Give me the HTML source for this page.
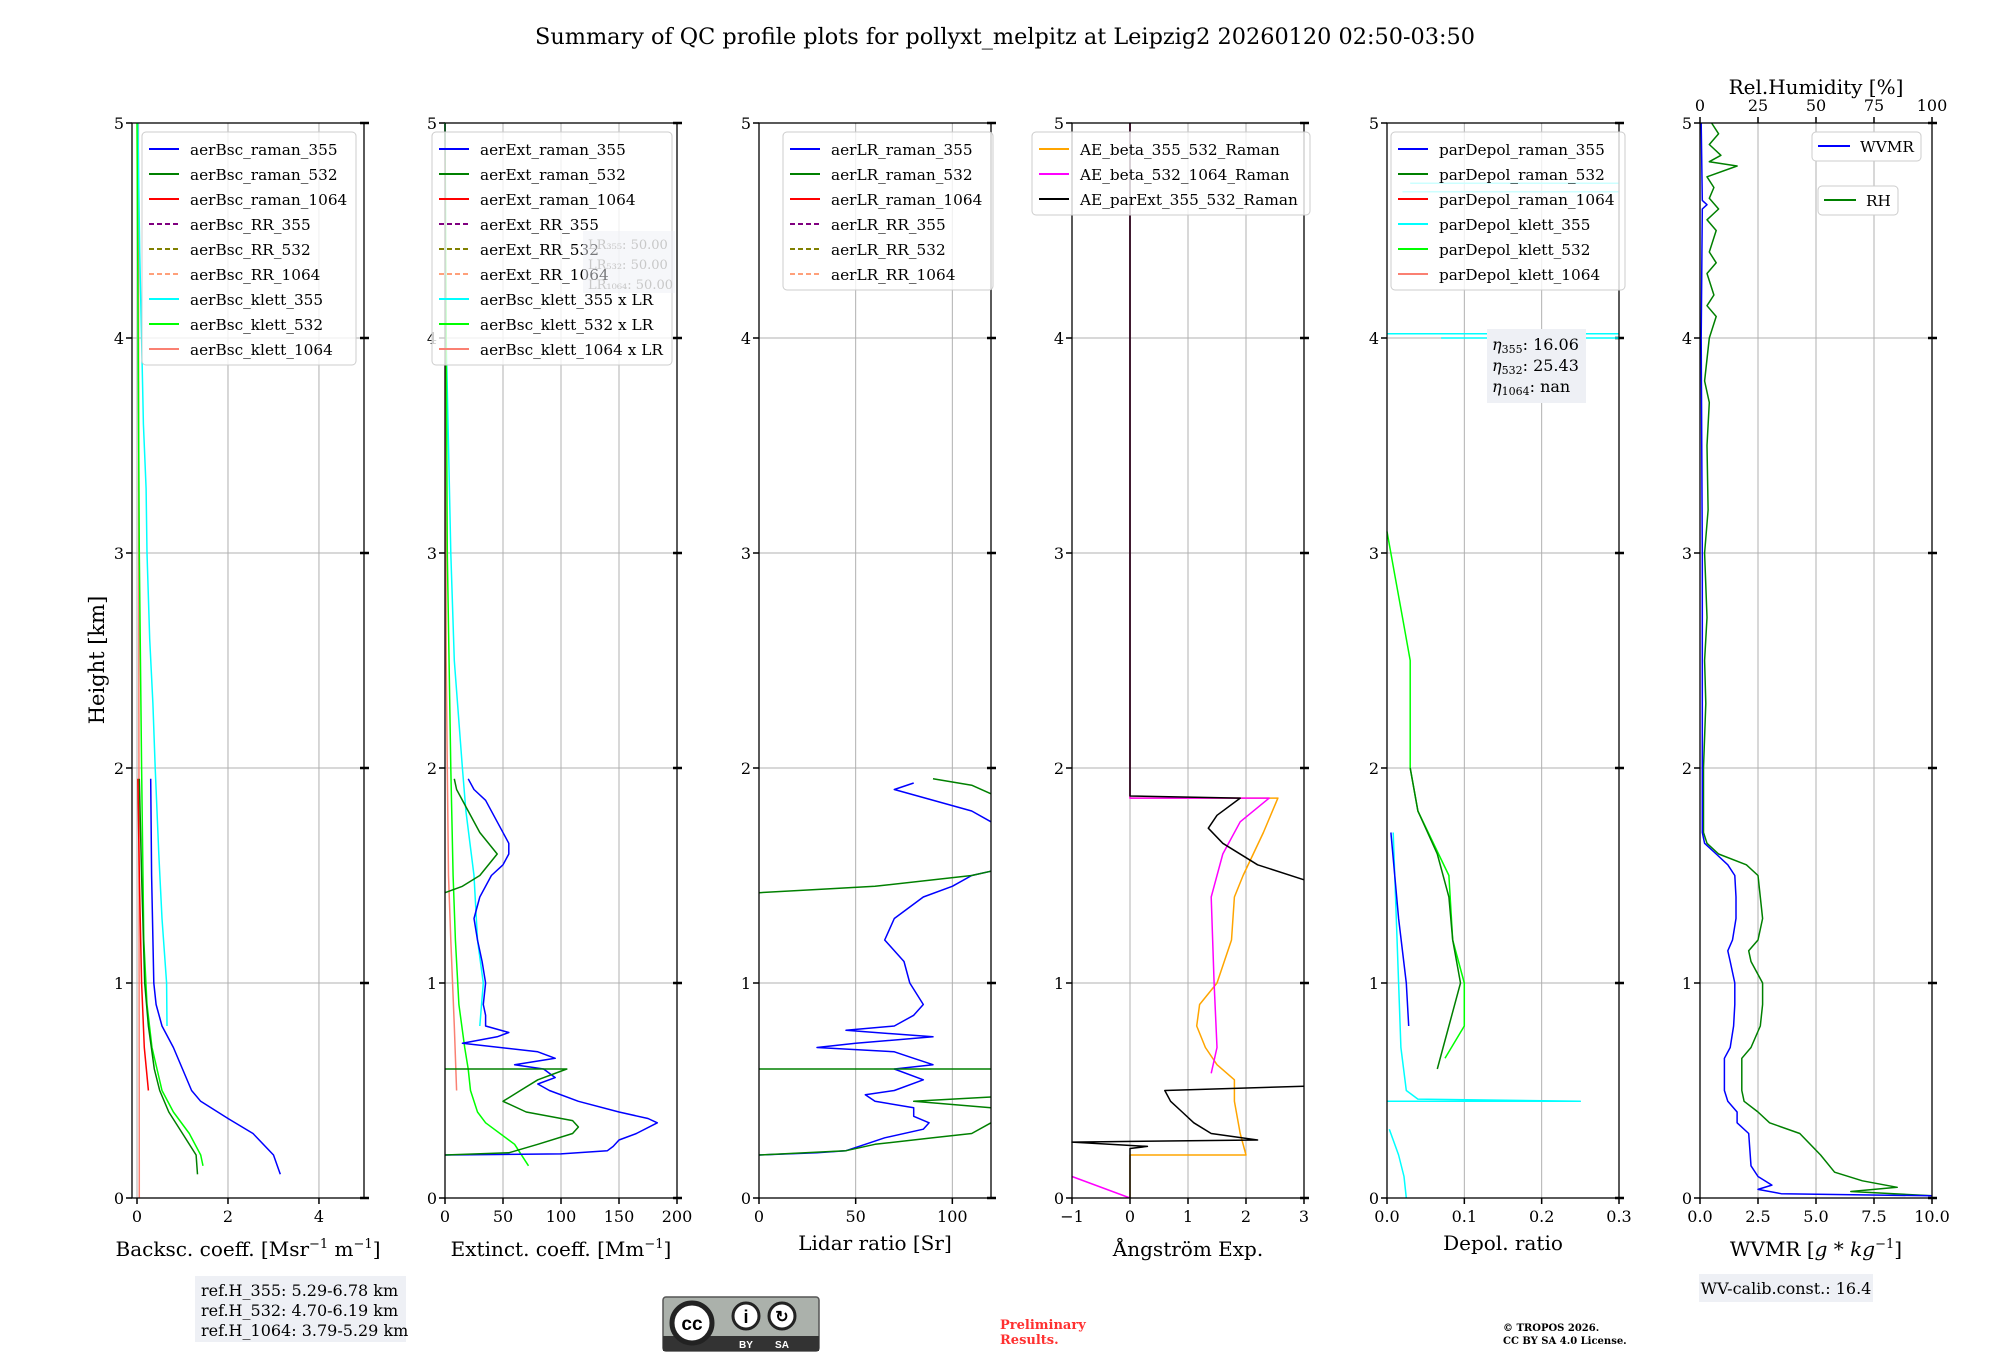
<!DOCTYPE html>
<html><head><meta charset="utf-8"><style>
html,body{margin:0;padding:0;background:#fff;}
svg{display:block;font-family:"DejaVu Serif","Liberation Serif",serif;}
</style></head><body>
<svg id="fig" width="2000" height="1360" viewBox="0 0 2000 1360" xmlns="http://www.w3.org/2000/svg">
<rect width="2000" height="1360" fill="#fff"/>
<text x="1005" y="44" font-size="22" text-anchor="middle" textLength="940" lengthAdjust="spacingAndGlyphs">Summary of QC profile plots for pollyxt_melpitz at Leipzig2 20260120 02:50-03:50</text>
<text transform="translate(104,660) rotate(-90)" font-size="21" text-anchor="middle">Height [km]</text>
<g id="panels"></g>
<g>
<rect x="195" y="1276" width="211" height="66" fill="#eef0f5"/>
<text x="201" y="1296" font-size="16">ref.H_355: 5.29-6.78 km</text>
<text x="201" y="1316" font-size="16">ref.H_532: 4.70-6.19 km</text>
<text x="201" y="1336" font-size="16">ref.H_1064: 3.79-5.29 km</text>
</g>
<g>
<rect x="663" y="1297" width="156" height="54" rx="3" fill="#abb1ab" stroke="#555" stroke-width="1.5"/>
<rect x="663" y="1336" width="156" height="15" fill="#333"/>
<circle cx="692" cy="1323" r="20" fill="#fff" stroke="#222" stroke-width="5"/>
<text x="692" y="1330" font-size="19" font-weight="bold" text-anchor="middle" font-family="Liberation Sans,sans-serif">cc</text>
<circle cx="746" cy="1316" r="13" fill="#fff" stroke="#222" stroke-width="3"/>
<text x="746" y="1323" font-size="18" font-weight="bold" text-anchor="middle" font-family="Liberation Sans,sans-serif">i</text>
<circle cx="782" cy="1316" r="13" fill="#fff" stroke="#222" stroke-width="3"/>
<text x="782" y="1322" font-size="16" font-weight="bold" text-anchor="middle" font-family="Liberation Sans,sans-serif">↻</text>
<text x="746" y="1348" font-size="10" fill="#fff" font-weight="bold" text-anchor="middle" font-family="Liberation Sans,sans-serif">BY</text>
<text x="782" y="1348" font-size="10" fill="#fff" font-weight="bold" text-anchor="middle" font-family="Liberation Sans,sans-serif">SA</text>
</g>
<text x="1000" y="1329" font-size="13" font-weight="bold" fill="#ff3030">Preliminary</text>
<text x="1000" y="1344" font-size="13" font-weight="bold" fill="#ff3030">Results.</text>
<text x="1503" y="1331" font-size="10" font-weight="bold">© TROPOS 2026.</text>
<text x="1503" y="1344" font-size="10" font-weight="bold">CC BY SA 4.0 License.</text>
<g>
<rect x="1699" y="1274" width="174" height="28" fill="#eef0f5"/>
<text x="1786" y="1294" font-size="16" text-anchor="middle">WV-calib.const.: 16.4</text>
</g>
</svg>
<script>
// ---- data (height km, value) ----
const heightTicks=[0,1,2,3,4,5];
const bsc_raman_355=[[0.11,3.15],[0.2,3.0],[0.3,2.55],[0.37,2.0],[0.45,1.4],[0.5,1.2],[0.6,1.0],[0.7,0.8],[0.8,0.55],[0.9,0.42],[1.0,0.37],[1.5,0.32],[1.95,0.3]];
const bsc_raman_532=[[0.11,1.33],[0.2,1.3],[0.3,1.0],[0.4,0.7],[0.5,0.5],[0.6,0.38],[0.8,0.25],[1.0,0.17],[1.5,0.1],[1.95,0.05]];
const bsc_raman_1064=[[0.5,0.25],[0.7,0.16],[1.0,0.1],[1.5,0.05],[1.95,0.02]];
const bsc_klett_355=[[0.8,0.66],[1.0,0.65],[1.3,0.55],[1.6,0.48],[2.0,0.4],[2.3,0.35],[2.6,0.28],[3.0,0.22],[3.3,0.2],[3.6,0.14],[4.0,0.1],[4.4,0.06],[5.0,0.02]];
const bsc_klett_532=[[0.15,1.45],[0.2,1.4],[0.3,1.15],[0.4,0.8],[0.5,0.55],[0.7,0.33],[0.9,0.22],[1.2,0.15],[2.0,0.1],[3.0,0.05],[5.0,0.0]];
const bsc_klett_1064=[[0.0,0.05],[5.0,0.03]];
const ext_raman_355=[[0.2,0],[0.205,100],[0.22,140],[0.24,145],[0.27,150],[0.3,165],[0.35,183],[0.37,175],[0.4,150],[0.45,115],[0.5,90],[0.53,80],[0.56,95],[0.6,85],[0.62,60],[0.65,95],[0.68,80],[0.72,15],[0.75,45],[0.77,55],[0.8,35],[0.85,35],[0.9,33],[1.0,35],[1.1,32],[1.2,28],[1.3,25],[1.4,30],[1.5,40],[1.55,50],[1.6,55],[1.65,55],[1.75,45],[1.85,35],[1.9,25],[1.95,20]];
const ext_raman_532=[[0.2,0],[0.21,55],[0.25,80],[0.3,110],[0.33,115],[0.36,110],[0.4,70],[0.45,50],[0.5,65],[0.55,80],[0.6,105],[0.6,0],null,[1.42,0],[1.45,15],[1.5,30],[1.6,45],[1.7,30],[1.8,20],[1.9,10],[1.95,8]];
const ext_klett_355=[[0.8,30],[1.0,33],[1.2,28],[1.5,25],[1.8,18],[2.0,15],[2.5,8],[3.0,5],[3.5,3],[4.0,1],[5.0,0]];
const ext_klett_532=[[0.15,72],[0.25,60],[0.35,35],[0.4,28],[0.5,22],[0.6,20],[0.7,17],[0.9,12],[1.2,9],[1.5,7],[2.0,5],[3.0,2],[4.0,1],[5.0,0]];
const ext_klett_1064=[[0.5,10],[0.8,8],[1.2,5],[1.5,3],[2.0,2],[2.5,1],[5.0,0]];
const lr_raman_355=[[0.2,0],[0.21,30],[0.22,45],[0.25,55],[0.28,65],[0.32,85],[0.35,88],[0.38,80],[0.42,80],[0.45,60],[0.48,55],[0.5,70],[0.55,85],[0.6,70],[0.62,90],[0.65,80],[0.68,70],[0.7,30],[0.72,50],[0.75,90],[0.78,45],[0.8,70],[0.85,80],[0.9,85],[1.0,78],[1.1,75],[1.2,65],[1.3,70],[1.4,85],[1.45,100],[1.5,110],[1.52,120],null,[1.75,120],[1.8,110],[1.9,70],[1.93,80]];
const lr_raman_532=[[0.2,0],[0.22,45],[0.25,60],[0.28,90],[0.3,110],[0.35,120],null,[0.42,120],[0.45,80],[0.47,120],null,[0.6,0],[0.6,120],null,[1.42,0],[1.45,60],[1.5,110],[1.52,120],null,[1.95,90],[1.92,110],[1.88,120]];
const ae_355_532=[[0,0],[0.2,0],[0.2,2.0],[0.3,1.9],[0.45,1.8],[0.55,1.8],[0.62,1.5],[0.7,1.3],[0.8,1.15],[0.9,1.2],[1.0,1.5],[1.2,1.75],[1.4,1.8],[1.5,1.95],[1.7,2.3],[1.86,2.55],[1.86,0],[5,0]];
const ae_532_1064=[[0.1,-1],[0,0],null,[0.58,1.4],[0.7,1.5],[1.0,1.45],[1.4,1.4],[1.6,1.6],[1.75,1.9],[1.86,2.4],[1.86,0],[5,0]];
const ae_parExt=[[0,0],[0.23,0],[0.24,0.3],[0.26,-1],[0.27,2.2],[0.3,1.4],[0.35,1.1],[0.4,0.9],[0.45,0.7],[0.5,0.6],[0.52,3],null,[1.48,3],[1.55,2.2],[1.65,1.6],[1.72,1.35],[1.78,1.5],[1.86,1.9],[1.87,0],[5,0]];
const dep_raman_355=[[0.8,0.028],[1.0,0.025],[1.3,0.015],[1.7,0.005]];
const dep_raman_532=[[0.6,0.065],[0.8,0.08],[1.0,0.095],[1.2,0.085],[1.4,0.08],[1.6,0.065],[1.8,0.04],[2.0,0.03]];
const dep_klett_355=[[0,0.025],[0.1,0.022],[0.2,0.015],[0.32,0.003],null,[0.45,0.0],[0.45,0.25],[0.46,0.04],[0.5,0.025],[0.7,0.018],[1.0,0.015],[1.3,0.012],[1.7,0.008],null,[4.02,0],[4.02,0.3],null,[4.0,0.3],[4.0,0.07],null,[4.68,0.02],[4.68,0.3],null,[4.72,0.3],[4.72,0.03]];
const dep_klett_532=[[0.65,0.075],[0.8,0.1],[1.0,0.1],[1.2,0.085],[1.5,0.08],[1.8,0.04],[2.0,0.03],[2.5,0.03],[2.7,0.02],[2.9,0.01],[3.1,0.0]];
const wvmr=[[0.01,10],[0.02,3.5],[0.04,2.5],[0.06,3.1],[0.1,2.5],[0.15,2.2],[0.3,2.1],[0.35,1.6],[0.4,1.6],[0.45,1.2],[0.5,1.05],[0.65,1.05],[0.7,1.3],[0.8,1.45],[0.9,1.5],[1.0,1.5],[1.1,1.3],[1.15,1.2],[1.2,1.4],[1.3,1.55],[1.4,1.55],[1.5,1.5],[1.55,1.2],[1.6,0.7],[1.65,0.2],[1.7,0.1],[2,0.1],[3,0.1],[4,0.05],[4.6,0.1],[4.62,0.3],[4.64,0.1],[5,0.05]];
const rh=[[0.01,100],[0.03,65],[0.05,85],[0.08,70],[0.12,58],[0.2,52],[0.3,43],[0.35,30],[0.4,25],[0.45,19],[0.5,18],[0.65,18],[0.7,22],[0.8,26],[0.9,27],[1.0,27],[1.1,22],[1.15,21],[1.2,25],[1.3,27],[1.4,26],[1.5,25],[1.55,20],[1.6,8],[1.65,3],[1.7,1.5],[2.0,1.5],[2.3,2.5],[2.5,2],[2.7,3],[3.0,2],[3.2,3.5],[3.5,3],[3.7,4],[3.8,2],[4.0,4],[4.1,7],[4.15,3],[4.2,6],[4.3,3],[4.35,7],[4.4,4],[4.5,7],[4.55,3],[4.6,8],[4.65,4],[4.7,6],[4.75,3],[4.8,16],[4.82,4],[4.85,9],[4.9,4],[4.95,8],[5.0,5]];

const NS="http://www.w3.org/2000/svg";
const TOP=123,BOT=1198,W=232;
const yS=h=>BOT-(h/5)*(BOT-TOP);
const root=document.getElementById('panels');
function mk(tag,attrs,parent){const e=document.createElementNS(NS,tag);for(const k in attrs)e.setAttribute(k,attrs[k]);(parent||root).appendChild(e);return e;}
function panel(p){
  const g=mk('g',{});
  
  
  const xS=v=>p.x0+(v-p.xmin)/(p.xmax-p.xmin)*W;
  p.xS=xS;
  p.xticks.forEach((t,i)=>{const x=xS(t);
    mk('line',{x1:x,x2:x,y1:TOP,y2:BOT,stroke:'#b0b0b0','stroke-width':1},g);
    mk('line',{x1:x,x2:x,y1:BOT,y2:BOT+6,stroke:'#000','stroke-width':1.5},g);
    const lab=mk('text',{x:x,y:BOT+24,'font-size':16,'text-anchor':'middle'},g);lab.textContent=p.xlabels[i];
    
    
  });
  heightTicks.forEach(h=>{const y=yS(h);
    if(h>0&&h<5)mk('line',{x1:p.x0,x2:p.x0+W,y1:y,y2:y,stroke:'#b0b0b0','stroke-width':1},g);
    mk('line',{x1:p.x0-6,x2:p.x0,y1:y,y2:y,stroke:'#000','stroke-width':1.5},g);
    mk('line',{x1:p.x0+W-4,x2:p.x0+W+5,y1:y,y2:y,stroke:'#000','stroke-width':2.5},g);
    const lab=mk('text',{x:p.x0-8,y:y+6,'font-size':16,'text-anchor':'end'},g);lab.textContent=h;
    
    
  });
  p.series.forEach(s=>{
    let d='',pen=false;
    s.data.forEach(pt=>{if(!pt){pen=false;return;}
      const x=Math.max(p.x0,Math.min(p.x0+W,xS(pt[1])));d+=(pen?'L':'M')+x.toFixed(1)+' '+yS(pt[0]).toFixed(1);pen=true;});
    const path=mk('path',{d:d,fill:'none',stroke:s.c,'stroke-width':s.w||1.5,'stroke-linejoin':'round'},g);
    
    
  });
  mk('rect',{x:p.x0,y:TOP,width:W,height:BOT-TOP,fill:'none',stroke:'#000','stroke-width':1.3},g);
  const xl=mk('text',{x:p.x0+W/2,y:p.xly||1256,'font-size':20,'text-anchor':'middle'},g);
  xl.innerHTML=p.xtitle;
  
  
  if(p.legend){const L=p.legend;
    const lg=mk('g',{},g);
    
    
    mk('rect',{x:L.x,y:L.y,width:L.w,height:L.items.length*25+8,rx:4,fill:'rgba(255,255,255,0.8)',stroke:'#ccc'},lg);
    L.items.forEach((it,i)=>{const y=L.y+17+i*25;
      mk('line',{x1:L.x+7,x2:L.x+37,y1:y,y2:y,stroke:it[1],'stroke-width':2,'stroke-dasharray':it[2]?'5,3':'none'},lg);
      const t=mk('text',{x:L.x+48,y:y+6,'font-size':15.3},lg);t.textContent=it[0];
      
      
    });
  }
  return g;
}
const lx=[132,445,759,1072,1387,1700];
panel({name:'backscatter-panel',x0:lx[0],xmin:-0.11,xmax:4.99,xticks:[0,2,4],xlabels:['0','2','4'],xtitle:'Backsc. coeff. [Msr<tspan font-size="13" dy="-8">−1</tspan><tspan dy="8"> m</tspan><tspan font-size="13" dy="-8">−1</tspan><tspan dy="8">]</tspan>',
 series:[{id:'aerBsc-klett-1064',c:'#fa8072',data:bsc_klett_1064},{id:'aerBsc-klett-355',c:'#00ffff',data:bsc_klett_355},{id:'aerBsc-klett-532',c:'#00ff00',data:bsc_klett_532},{id:'aerBsc-raman-355',c:'#0000ff',data:bsc_raman_355},{id:'aerBsc-raman-532',c:'#008000',data:bsc_raman_532},{id:'aerBsc-raman-1064',c:'#ff0000',data:bsc_raman_1064}],
 legend:{x:142,y:132,w:214,items:[['aerBsc_raman_355','#0000ff'],['aerBsc_raman_532','#008000'],['aerBsc_raman_1064','#ff0000'],['aerBsc_RR_355','#800080',1],['aerBsc_RR_532','#808000',1],['aerBsc_RR_1064','#ffa07a',1],['aerBsc_klett_355','#00ffff'],['aerBsc_klett_532','#00ff00'],['aerBsc_klett_1064','#fa8072']]}});
panel({name:'extinction-panel',x0:lx[1],xmin:0,xmax:200,xticks:[0,50,100,150,200],xlabels:['0','50','100','150','200'],xtitle:'Extinct. coeff. [Mm<tspan font-size="13" dy="-8">−1</tspan><tspan dy="8">]</tspan>',
 series:[{id:'aerExt-klett-1064',c:'#fa8072',data:ext_klett_1064},{id:'aerExt-klett-355',c:'#00ffff',data:ext_klett_355},{id:'aerExt-klett-532',c:'#00ff00',data:ext_klett_532},{id:'aerExt-raman-355',c:'#0000ff',data:ext_raman_355},{id:'aerExt-raman-532',c:'#008000',data:ext_raman_532}],
 legend:{x:432,y:132,w:240,items:[['aerExt_raman_355','#0000ff'],['aerExt_raman_532','#008000'],['aerExt_raman_1064','#ff0000'],['aerExt_RR_355','#800080',1],['aerExt_RR_532','#808000',1],['aerExt_RR_1064','#ffa07a',1],['aerBsc_klett_355 x LR','#00ffff'],['aerBsc_klett_532 x LR','#00ff00'],['aerBsc_klett_1064 x LR','#fa8072']]}});
panel({name:'lidar-ratio-panel',x0:lx[2],xmin:0,xmax:120,xticks:[0,50,100],xlabels:['0','50','100'],xtitle:'Lidar ratio [Sr]',xly:1250,
 series:[{id:'aerLR-raman-355',c:'#0000ff',data:lr_raman_355},{id:'aerLR-raman-532',c:'#008000',data:lr_raman_532}],
 legend:{x:783,y:132,w:210,items:[['aerLR_raman_355','#0000ff'],['aerLR_raman_532','#008000'],['aerLR_raman_1064','#ff0000'],['aerLR_RR_355','#800080',1],['aerLR_RR_532','#808000',1],['aerLR_RR_1064','#ffa07a',1]]}});
panel({name:'angstrom-panel',x0:lx[3],xmin:-1,xmax:3,xticks:[-1,0,1,2,3],xlabels:['−1','0','1','2','3'],xtitle:'Ångström Exp.',
 series:[{id:'AE-beta-355-532',c:'#ffa500',data:ae_355_532},{id:'AE-beta-532-1064',c:'#ff00ff',data:ae_532_1064},{id:'AE-parExt-355-532',c:'#000000',data:ae_parExt}],
 legend:{x:1032,y:132,w:278,items:[['AE_beta_355_532_Raman','#ffa500'],['AE_beta_532_1064_Raman','#ff00ff'],['AE_parExt_355_532_Raman','#000000']]}});
panel({name:'depol-panel',x0:lx[4],xmin:0,xmax:0.3,xticks:[0,0.1,0.2,0.3],xlabels:['0.0','0.1','0.2','0.3'],xtitle:'Depol. ratio',xly:1250,
 series:[{id:'parDepol-klett-355',c:'#00ffff',data:dep_klett_355},{id:'parDepol-klett-532',c:'#00ff00',data:dep_klett_532},{id:'parDepol-raman-355',c:'#0000ff',data:dep_raman_355},{id:'parDepol-raman-532',c:'#008000',data:dep_raman_532}],
 legend:{x:1391,y:132,w:234,items:[['parDepol_raman_355','#0000ff'],['parDepol_raman_532','#008000'],['parDepol_raman_1064','#ff0000'],['parDepol_klett_355','#00ffff'],['parDepol_klett_532','#00ff00'],['parDepol_klett_1064','#fa8072']]}});
const p6={name:'wvmr-panel',x0:lx[5],xmin:0,xmax:10,xticks:[0,2.5,5,7.5,10],xlabels:['0.0','2.5','5.0','7.5','10.0'],xtitle:'WVMR [<tspan font-style="italic">g</tspan> * <tspan font-style="italic">kg</tspan><tspan font-size="13" dy="-8">−1</tspan><tspan dy="8">]</tspan>',
 series:[{id:'rh-line',c:'#008000',data:rh.map(p=>[p[0],p[1]/10])},{id:'wvmr-line',c:'#0000ff',data:wvmr}]};
const g6=panel(p6);
// top RH axis
const rhTicks=[0,25,50,75,100];
rhTicks.forEach(t=>{const x=lx[5]+t/100*W;
  mk('line',{x1:x,x2:x,y1:TOP-6,y2:TOP,stroke:'#000','stroke-width':1.5},g6);
  const l=mk('text',{x:x,y:TOP-12,'font-size':16,'text-anchor':'middle'},g6);l.textContent=t;
  
  
});
const rt=mk('text',{x:lx[5]+W/2,y:94,'font-size':20,'text-anchor':'middle'},g6);rt.textContent='Rel.Humidity [%]';


[['WVMR','#0000ff',1812,132,109],['RH','#008000',1818,186,80]].forEach(L=>{
  const lg=mk('g',{},g6);
  
  
  mk('rect',{x:L[2],y:L[3],width:L[4],height:29,rx:4,fill:'#fff',stroke:'#ccc'},lg);
  mk('line',{x1:L[2]+6,x2:L[2]+38,y1:L[3]+14,y2:L[3]+14,stroke:L[1],'stroke-width':2},lg);
  const t=mk('text',{x:L[2]+48,y:L[3]+20,'font-size':15.3},lg);t.textContent=L[0];
});
// annotation boxes
const lrb=mk('g',{});


mk('rect',{x:583,y:231,width:92,height:62,fill:'#eef0f5','fill-opacity':0.5},lrb);
['LR₃₅₅: 50.00','LR₅₃₂: 50.00','LR₁₀₆₄: 50.00'].forEach((s,i)=>{const t=mk('text',{x:588,y:249+i*20,'font-size':13,fill:'#c8c8c8'},lrb);t.textContent=s;});
const eb=mk('g',{});


mk('rect',{x:1487,y:329,width:99,height:74,fill:'#eef0f5'},eb);
[['355','16.06'],['532','25.43'],['1064','nan']].forEach((s,i)=>{const t=mk('text',{x:1492,y:350+i*21,'font-size':16},eb);
 t.innerHTML='<tspan font-style="italic">η</tspan><tspan font-size="11" dy="3">'+s[0]+'</tspan><tspan dy="-3">: '+s[1]+'</tspan>';});
</script>
</body></html>
